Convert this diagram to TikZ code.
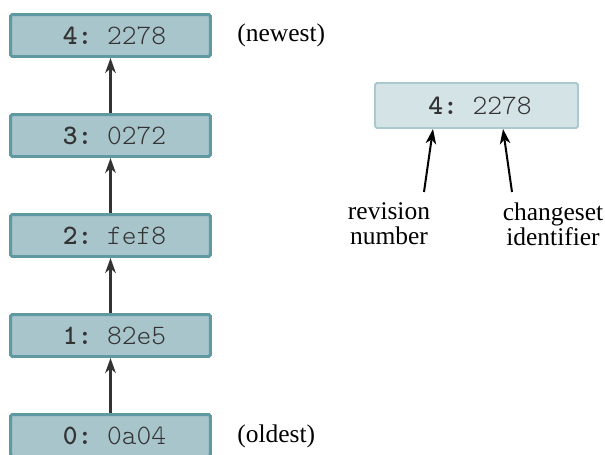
\documentclass[tikz,border=0pt]{standalone}
\usepackage{fontspec}
\setmainfont{Liberation Serif}
\setmonofont{Latin Modern Mono Light}
\usetikzlibrary{arrows.meta}
\definecolor{revfill}{HTML}{A8C5CB}
\definecolor{revline}{HTML}{5F9AA3}
\definecolor{keyfill}{HTML}{D4E3E6}
\definecolor{keyline}{HTML}{A9C9CE}
\tikzset{rev/.style={
        draw=revline, fill=revfill, line width=1.7pt, rounded corners=1pt,
        minimum width=4cm, minimum height=0.84cm, inner sep=0pt,
        text=black!80, font=\ttfamily\fontsize{16}{13}\selectfont
    },
    keybox/.style={rev, draw=keyline, fill=keyfill, line width=1.1pt,
        minimum width=4.06cm, minimum height=0.9cm
    },
    note/.style={inner sep=0pt, font=\rmfamily\fontsize{14.5}{14.2}\selectfont},
    link/.style={draw=black!80, line width=1.15pt, -{Stealth[length=8.5pt,width=6pt,inset=2.5pt]}},
    pointer/.style={link, draw=black}
}

\begin{document}
\begin{tikzpicture}[x=0.02cm,y=-0.02cm]
      \useasboundingbox (0,0) rectangle (605,454);
      % revisions
      \node[rev] (r4) at (110.5,35.5) {\hspace*{0.16cm}\textbf{4:} 2278};
      \node[rev] (r3) at (110.5,135.5) {\hspace*{0.16cm}\textbf{3:} 0272};
      \node[rev] (r2) at (110.5,235.5) {\hspace*{0.16cm}\textbf{2:} fef8};
      \node[rev] (r1) at (110.5,335.5) {\hspace*{0.16cm}\textbf{1:} 82e5};
      \node[rev] (r0) at (110.5,435.5) {\hspace*{0.16cm}\textbf{0:} 0a04};
      % side labels
      \node[note, anchor=west] (newest) at (237,35) {(newest)};
      \node[note, anchor=west] (oldest) at (237,436) {(oldest)};
      % key
      \node[keybox] (key) at (476.5,105.5) {\hspace*{0.14cm}\textbf{4:} 2278};
      \node[note, align=center] (revnum) at (389,224) {revision\\number};
      \node[note, align=center] (csid) at (553,224) {changeset\\identifier};
      \coordinate (revfoot) at (424,192);
      \coordinate (revtip) at (433,129);
      \coordinate (csfoot) at (512,192);
      \coordinate (cstip) at (503,129);
      % arrows
      \draw[link] (r0) -- (r1);
      \draw[link] (r1) -- (r2);
      \draw[link] (r2) -- (r3);
      \draw[link] (r3) -- (r4);
      \draw[pointer] (revfoot) -- (revtip);
      \draw[pointer] (csfoot) -- (cstip);
\end{tikzpicture}
\end{document}
